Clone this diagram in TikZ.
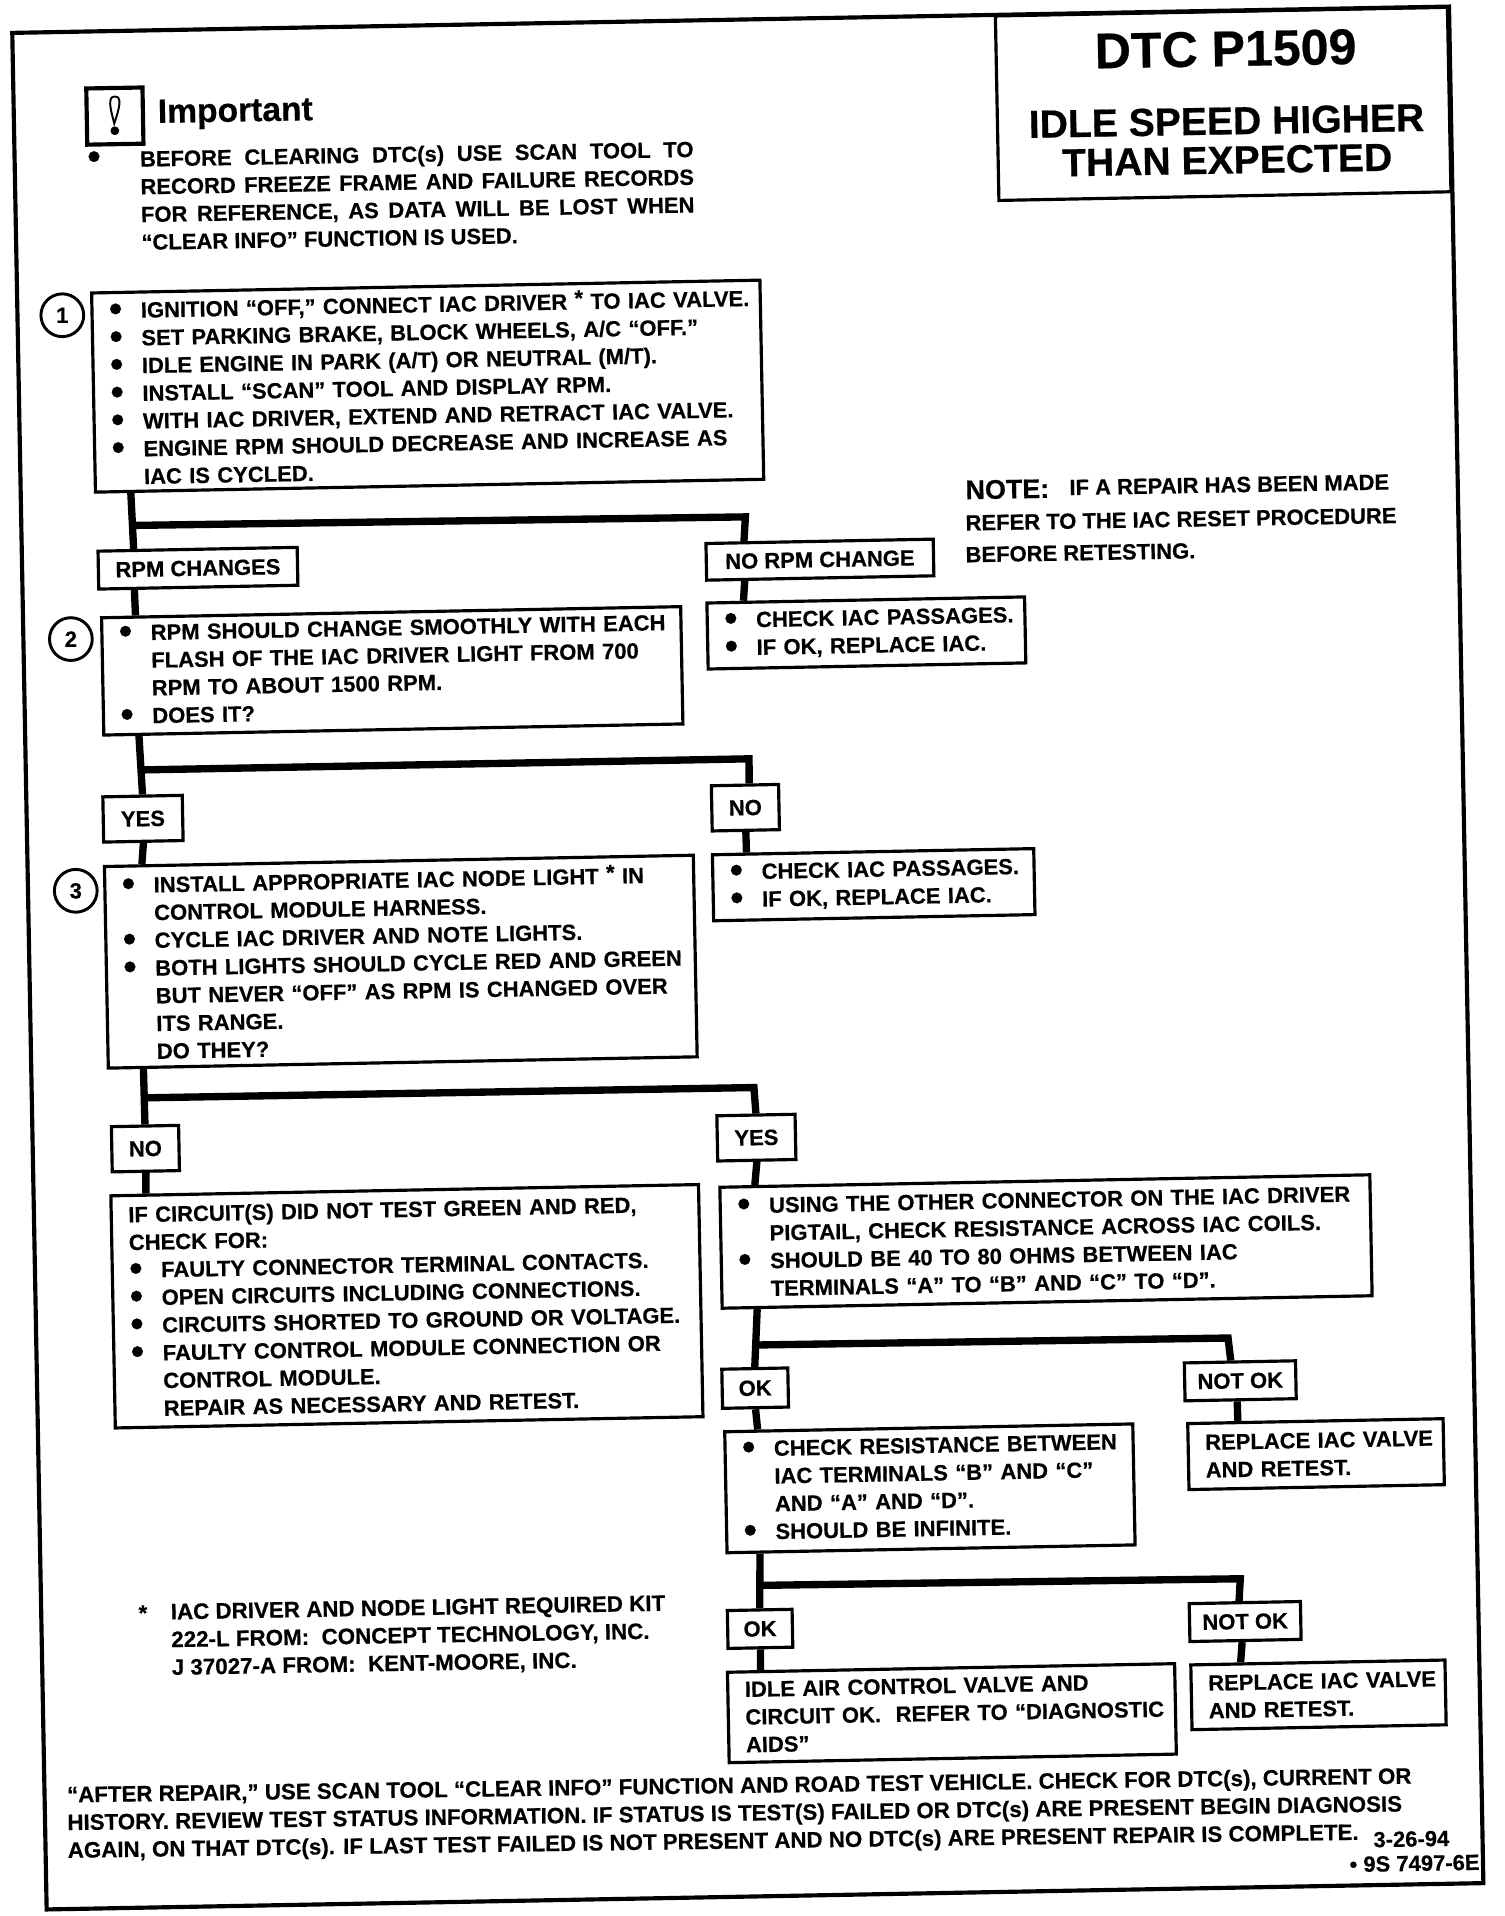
\documentclass[tikz,border=0pt]{standalone}
\usepackage{fontspec}
\setmainfont{Liberation Sans}[BoldFeatures={FakeBold=0.5}]
\usetikzlibrary{calc}
\newcommand\BLT{\raisebox{-2.5pt}{\scalebox{1.7}{\textbullet}}}
\newcommand\BU{\makebox[40pt][l]{\hspace{14pt}\BLT}}
\newcommand\CO{\makebox[40pt]{}}
\newcommand\PL{\makebox[14pt]{}}
\newcommand\JL[1]{\makebox[453pt][s]{#1}}
\tikzset{
  ang/.style={rotate=1.0},
  tbox/.style={rotate=1.1,draw,line width=2.6pt,inner sep=0pt,align=left,anchor=center,
    font=\bfseries\fontsize{18}{22.7}\selectfont},
  lab/.style={rotate=1.1,draw,line width=2.6pt,inner sep=0pt,align=center,anchor=center,
    font=\bfseries\fontsize{18}{20}\selectfont},
  txt/.style={ang,inner sep=0pt,align=left,anchor=north west,
    font=\bfseries\fontsize{18}{22.7}\selectfont},
  conn/.style={line width=6pt,line join=miter},
  num/.style={draw,circle,line width=2.4pt,minimum size=35pt,inner sep=0pt,
    font=\bfseries\fontsize{18}{20}\selectfont},
}
\begin{document}
\begin{tikzpicture}[x=1pt,y=-1pt]
\useasboundingbox (0,0) rectangle (1231,1568);
% outer frame
\node[draw,line width=3.4pt,rotate=1.05,minimum width=1176pt,minimum height=1536pt,inner sep=0pt] (frame) at (612,784) {};
% title
\node[rotate=1.1,draw,line width=2.6pt,minimum width=370pt,minimum height=151pt,inner sep=0pt] (title) at (1001,85) {};
\node[ang,font=\bfseries\fontsize{41}{45}\selectfont,inner sep=0pt] (t1) at (1003,40) {DTC P1509};
\node[ang,font=\bfseries\fontsize{32}{32}\selectfont,align=center,inner sep=0pt] (t2) at (1004,115) {IDLE SPEED HIGHER\\THAN EXPECTED};
% important
\node[ang,draw,line width=3.4pt,minimum width=46pt,minimum height=46pt,inner sep=0pt] (ibox) at (94,95) {};
\draw[line width=1.6pt] (94,79) .. controls (88,79) and (90,88) .. (93.5,101) .. controls (98,88) and (100,79) .. (94,79) -- cycle;
\fill (94,107) circle (3.6pt);
\node[ang,anchor=west,inner sep=0pt,font=\bfseries\fontsize{27.5}{30}\selectfont] (imp) at (129,94) {Important};
\node[ang,inner sep=0pt,font=\bfseries\fontsize{18}{18}\selectfont] (ib) at (77,131) {\BLT};
\node[txt,anchor=west] (note0) at (115,164) {\JL{BEFORE CLEARING DTC(s) USE SCAN TOOL TO}\\\JL{RECORD FREEZE FRAME AND FAILURE RECORDS}\\\JL{FOR REFERENCE, AS DATA WILL BE LOST WHEN}\\“CLEAR INFO” FUNCTION IS USED.};
% circles
\node[num] (c1) at (51,258) {1};
\node[num] (c2) at (58,523) {2};
\node[num] (c3) at (62,729) {3};
% boxes
\node[tbox,text width=547pt,minimum height=163pt] (b1) at (350,316) {\BU IGNITION “OFF,” CONNECT IAC DRIVER \raisebox{3pt}{*} TO IAC VALVE.\\\BU SET PARKING BRAKE, BLOCK WHEELS, A/C “OFF.”\\\BU IDLE ENGINE IN PARK (A/T) OR NEUTRAL (M/T).\\\BU INSTALL “SCAN” TOOL AND DISPLAY RPM.\\\BU WITH IAC DRIVER, EXTEND AND RETRACT IAC VALVE.\\\BU ENGINE RPM SHOULD DECREASE AND INCREASE AS\\\CO IAC IS CYCLED.};
\node[lab,minimum width=163pt,minimum height=31pt] (rpm) at (162,465) {RPM CHANGES};
\node[lab,minimum width=186pt,minimum height=30pt] (norpm) at (671,458) {NO RPM CHANGE};
\node[tbox,text width=260pt,minimum height=54pt] (r1) at (709,518) {\BU CHECK IAC PASSAGES.\\\BU IF OK, REPLACE IAC.};
\node[tbox,text width=474pt,minimum height=96pt] (b2) at (321,549) {\BU RPM SHOULD CHANGE SMOOTHLY WITH EACH\\\CO FLASH OF THE IAC DRIVER LIGHT FROM 700\\\CO RPM TO ABOUT 1500 RPM.\\\BU DOES IT?};
\node[lab,minimum width=65pt,minimum height=37pt] (yes1) at (117,670) {YES};
\node[lab,minimum width=55pt,minimum height=37pt] (no1) at (610,661) {NO};
\node[tbox,text width=263pt,minimum height=54pt] (r2) at (715,724) {\BU CHECK IAC PASSAGES.\\\BU IF OK, REPLACE IAC.};
\node[tbox,text width=482pt,minimum height=165pt] (b3) at (328,787) {\BU INSTALL APPROPRIATE IAC NODE LIGHT \raisebox{3pt}{*} IN\\\CO CONTROL MODULE HARNESS.\\\BU CYCLE IAC DRIVER AND NOTE LIGHTS.\\\BU BOTH LIGHTS SHOULD CYCLE RED AND GREEN\\\CO BUT NEVER “OFF” AS RPM IS CHANGED OVER\\\CO ITS RANGE.\\\CO DO THEY?};
\node[lab,minimum width=55pt,minimum height=37pt] (no2) at (119,940) {NO};
\node[lab,minimum width=64pt,minimum height=37pt] (yes2) at (619,931) {YES};
\node[tbox,text width=481pt,minimum height=190pt] (left) at (333,1069) {\PL IF CIRCUIT(S) DID NOT TEST GREEN AND RED,\\\PL CHECK FOR:\\\BU FAULTY CONNECTOR TERMINAL CONTACTS.\\\BU OPEN CIRCUITS INCLUDING CONNECTIONS.\\\BU CIRCUITS SHORTED TO GROUND OR VOLTAGE.\\\BU FAULTY CONTROL MODULE CONNECTION OR\\\CO CONTROL MODULE.\\\CO REPAIR AS NECESSARY AND RETEST.};
\node[tbox,text width=532pt,minimum height=99pt] (b4) at (856,1016) {\BU USING THE OTHER CONNECTOR ON THE IAC DRIVER\\\CO PIGTAIL, CHECK RESISTANCE ACROSS IAC COILS.\\\BU SHOULD BE 40 TO 80 OHMS BETWEEN IAC\\\CO TERMINALS “A” TO “B” AND “C” TO “D”.};
\node[lab,minimum width=54pt,minimum height=32pt] (ok1) at (618,1136) {OK};
\node[lab,minimum width=91pt,minimum height=31pt] (nok1) at (1015,1130) {NOT OK};
\node[tbox,text width=334pt,minimum height=99pt] (b5) at (761,1218) {\BU CHECK RESISTANCE BETWEEN\\\CO IAC TERMINALS “B” AND “C”\\\CO AND “A” AND “D”.\\\BU SHOULD BE INFINITE.};
\node[tbox,text width=209pt,minimum height=54pt] (rp1) at (1077,1190) {\PL REPLACE IAC VALVE\\\PL AND RETEST.};
\node[lab,minimum width=53pt,minimum height=31pt] (ok2) at (622,1333) {OK};
\node[lab,minimum width=91pt,minimum height=31pt] (nok2) at (1019,1327) {NOT OK};
\node[tbox,text width=366pt,minimum height=74pt] (b6) at (779,1402) {\PL IDLE AIR CONTROL VALVE AND\\\PL CIRCUIT OK.\ \ REFER TO “DIAGNOSTIC\\\PL AIDS”};
\node[tbox,text width=208pt,minimum height=53pt] (rp2) at (1079,1387) {\PL REPLACE IAC VALVE\\\PL AND RETEST.};
% connectors
\draw[conn] ($(b1.south west)!.055!(b1.south east)$) coordinate (a1) -- ($(rpm.north west)!.184!(rpm.north east)$) coordinate (a2);
\coordinate (k1) at (610,423);
\draw[conn] ($(a1)!.58!(a2)$) -- (k1) -- ($(norpm.north west)!.172!(norpm.north east)$);
\draw[conn] ($(rpm.south west)!.184!(rpm.south east)$) -- ($(b2.north west)!.061!(b2.north east)$);
\draw[conn] ($(norpm.south west)!.172!(norpm.south east)$) -- ($(r1.north west)!.119!(r1.north east)$);
\draw[conn] ($(b2.south west)!.063!(b2.south east)$) coordinate (a3) -- (yes1.north) coordinate (a4);
\coordinate (k2) at (613,621);
\draw[conn] ($(a3)!.58!(a4)$) -- (k2) -- ($(no1.north west)!.56!(no1.north east)$);
\draw[conn] (yes1.south) -- ($(b3.north west)!.066!(b3.north east)$);
\draw[conn] (no1.south) -- ($(r2.north west)!.11!(r2.north east)$);
\draw[conn] ($(b3.south west)!.062!(b3.south east)$) coordinate (a5) -- (no2.north) coordinate (a6);
\coordinate (k3) at (617,890);
\draw[conn] ($(a5)!.52!(a6)$) -- (k3) -- (yes2.north);
\draw[conn] (no2.south) -- ($(left.north west)!.062!(left.north east)$);
\draw[conn] (yes2.south) -- ($(b4.north west)!.056!(b4.north east)$);
\draw[conn] ($(b4.south west)!.056!(b4.south east)$) coordinate (a7) -- (ok1.north) coordinate (a8);
\coordinate (k4) at (1005,1095);
\draw[conn] ($(a7)!.62!(a8)$) -- (k4) -- ($(nok1.north west)!.42!(nok1.north east)$);
\draw[conn] (ok1.south) -- ($(b5.north west)!.084!(b5.north east)$);
\draw[conn] ($(nok1.south west)!.47!(nok1.south east)$) -- ($(rp1.north west)!.2!(rp1.north east)$);
\draw[conn] ($(b5.south west)!.084!(b5.south east)$) coordinate (a9) -- (ok2.north) coordinate (a10);
\coordinate (k5) at (1015,1292);
\draw[conn] ($(a9)!.58!(a10)$) -- (k5) -- ($(nok2.north west)!.45!(nok2.north east)$);
\draw[conn] (ok2.south) -- ($(b6.north west)!.077!(b6.north east)$);
\draw[conn] ($(nok2.south west)!.47!(nok2.south east)$) -- ($(rp2.north west)!.2!(rp2.north east)$);
% free text
\node[ang,anchor=west,inner sep=0pt,font=\bfseries\fontsize{22}{24}\selectfont] (note1) at (790,401) {NOTE:};
\node[ang,anchor=west,inner sep=0pt,font=\bfseries\fontsize{18}{18}\selectfont] (note2) at (875,399) {IF A REPAIR HAS BEEN MADE};
\node[ang,anchor=west,inner sep=0pt,font=\bfseries\fontsize{18}{18}\selectfont] (note3) at (790,428) {REFER TO THE IAC RESET PROCEDURE};
\node[ang,anchor=west,inner sep=0pt,font=\bfseries\fontsize{18}{18}\selectfont] (note4) at (790,454) {BEFORE RETESTING.};
\node[ang,inner sep=0pt,font=\bfseries\fontsize{18}{18}\selectfont] (fs) at (117,1320) {*};
\node[txt,anchor=west,font=\bfseries\fontsize{18.3}{22.7}\selectfont] (foot) at (140,1343) {IAC DRIVER AND NODE LIGHT REQUIRED KIT\\222-L FROM:\ \ CONCEPT TECHNOLOGY, INC.\\J 37027-A FROM:\ \ KENT-MOORE, INC.};
\node[txt,anchor=west,rotate=-0.2,font=\bfseries\fontsize{18.25}{22.7}\selectfont] (bottom) at (55,1493) {“AFTER REPAIR,” USE SCAN TOOL “CLEAR INFO” FUNCTION AND ROAD TEST VEHICLE. CHECK FOR DTC(s), CURRENT OR\\HISTORY. REVIEW TEST STATUS INFORMATION. IF STATUS IS TEST(S) FAILED OR DTC(s) ARE PRESENT BEGIN DIAGNOSIS\\AGAIN, ON THAT DTC(s). IF LAST TEST FAILED IS NOT PRESENT AND NO DTC(s) ARE PRESENT REPAIR IS COMPLETE.};
\node[ang,inner sep=0pt,font=\bfseries\fontsize{18}{18}\selectfont] (date) at (1155,1505) {3-26-94};
\node[ang,inner sep=0pt,anchor=east,font=\bfseries\fontsize{18}{18}\selectfont] (code) at (1211,1524) {\textbullet\ 9S 7497-6E};
\end{tikzpicture}
\end{document}
